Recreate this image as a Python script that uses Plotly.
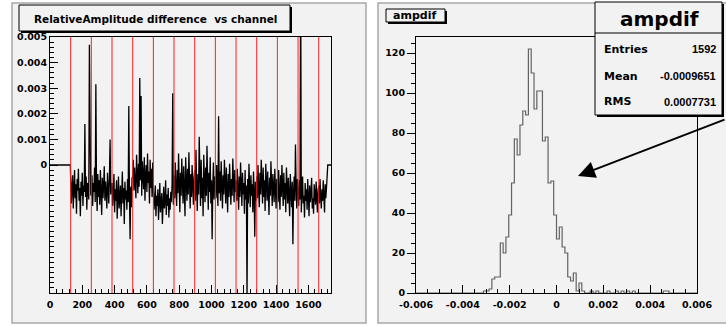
import plotly.graph_objects as go

W, H = 726, 326

# ---------------- data ----------------
# Left panel: relative amplitude difference per channel (units of 1e-5), 13 groups of 128 channels,
# sampled every 4 channels.
seg1 = [-60, -150, -85, -40, -170, -110, -20, -130, -75, -190, -55, -100, -15, -140, -90, -200,
        -65, -120, -30, -160, -80, -105, 160, -125, -45, -175, -70, -95, -135, 470, -50, -115]
seg2 = [-120, -40, -160, -70, -105, -10, -145, 315, -90, -180, -35, -125, -60, -155, -20, -100,
        -195, -50, -130, -80, -5, -140, -65, -110, -170, -30, -95, -150, -45, 100, -115, -75]
seg3 = [-70, -160, -120, -35, -185, -95, -140, -60, -210, -105, -45, -170, -130, -80, -200, -115,
        -25, -150, -90, -230, -65, -135, -100, -175, -55, -145, 230, -120, -290, -85, -165, -50]
seg4 = [-45, 20, -100, -10, -75, -130, 40, -35, -110, 5, -85, 340, -60, 270, -120, 15,
        -20, -95, 30, -140, -40, 0, -105, 45, -70, -25, -150, 20, -90, -15, -125, 10]
seg5 = [-100, -175, -140, -80, -200, -120, -160, -95, -215, -135, -70, -185, -150, -110, -230, -125,
        -85, -170, -145, -60, -195, -115, -160, -90, -205, -130, -175, -105, -145, -75, 280, -155]
seg6 = [-40, -130, 10, -95, -160, -20, -110, 45, -70, -185, -30, -120, 25, -85, -150, -5,
        -100, -200, 30, -60, -140, -15, -115, 50, -80, -170, -35, -125, 0, -90, -155, -50]
seg7 = [-20, -140, 60, -95, -180, -35, -115, 110, -70, -160, 20, -130, -50, -200, 40, -90,
        -145, -10, -120, 75, -75, -175, -30, -105, 30, -150, -60, -290, -85, 10, -135, -45]
seg8 = [-50, -130, 0, -95, -160, 190, -110, -25, -140, 15, -80, -170, -40, -115, 20, -65,
        -150, -10, -100, -185, -35, -125, 5, -85, -155, -55, -120, 25, -75, -145, -20, -105]
seg9 = [-60, -140, -15, -110, -175, -45, -125, 10, -90, -160, -30, -115, -70, -190, -20, -135,
        -80, -520, -55, -150, 5, -100, -165, -40, -120, -75, -185, -25, -105, -280, -65, -140]
seg10 = [-45, -130, 0, -100, -165, -30, -115, 20, -75, -150, -10, -125, -60, -180, 5, -95,
         -140, -25, -110, -195, -50, -120, 15, -85, -160, -35, -105, -145, -15, -90, -170, -55]
seg11 = [-60, -145, -20, -115, -175, -40, -125, 0, -95, -160, -30, -135, -70, -185, -10, -105,
         -150, -50, -120, -200, -35, -90, -165, -65, -310, -110, -45, -140, 80, -80, -170, -55]
seg12 = [-90, -160, -60, -135, 800, -185, -100, -45, -150, -120, -205, -70, -140, -95, -175, -55,
         -125, -200, -80, -145, -110, -50, -170, -130, -190, -75, -115, -155, -65, -140, -185, -100]
seg13 = [-80, -150, -55, -125, -170, -95, -140, -60, -115, -185, -75, -130, -90, -50]
segments = [seg1, seg2, seg3, seg4, seg5, seg6, seg7, seg8, seg9, seg10, seg11, seg12, seg13]
group_size = 128
sample_step = 4
first_channel = 128
last_channel = 1720
channel_max = 1740
red_line_channels = [128 * k for k in range(1, 14)]

# Right panel: histogram "ampdif", 100 bins in [-0.006, 0.006]
hist_lo, hist_hi, nbins = -0.006, 0.006, 100
counts = [0] * 24 + [1, 1, 2, 7, 8, 8, 25, 20, 28, 39, 55, 77, 69, 84, 91, 89, 122, 110, 92, 101, 101,
                     76, 78, 55, 56, 39, 27, 33, 23, 20, 8, 6, 10, 1, 5, 1,
                     0, 0, 1, 0, 1, 0, 0, 0, 1, 0, 0, 1, 0, 1, 0, 1, 0, 1,
                     0, 0, 0, 0, 0, 0, 0, 0, 0, 0, 1, 1] + [0] * 10
stats_entries = "1592"
stats_mean = "-0.0009651"
stats_rms = "0.0007731"

left_xticks = [0, 200, 400, 600, 800, 1000, 1200, 1400, 1600]
left_yticks = [-0.005, -0.004, -0.003, -0.002, -0.001, 0, 0.001, 0.002, 0.003, 0.004, 0.005]
left_ytext = ["", "", "", "", "", "0", "0.001", "0.002", "0.003", "0.004", "0.005"]
right_xticks = [-0.006, -0.004, -0.002, 0, 0.002, 0.004, 0.006]
right_xtext = ["-0.006", "-0.004", "-0.002", "0", "0.002", "0.004", "0.006"]
right_yticks = [0, 20, 40, 60, 80, 100, 120]

# ---------------- build traces ----------------
lx = [0, first_channel - 2]
ly = [0.0, 0.0]
for k, seg in enumerate(segments):
    start = group_size * (k + 1)
    for i, v in enumerate(seg):
        lx.append(start + sample_step * i)
        ly.append(v * 1e-5)
lx += [last_channel, channel_max]
ly += [0.0, 0.0]

bw = (hist_hi - hist_lo) / nbins
hx = [hist_lo + bw * i for i in range(nbins + 1)]
hy = counts + [counts[-1]]

fig = go.Figure()
fig.add_trace(go.Scatter(x=lx, y=ly, mode="lines", line=dict(color="black", width=1.3),
                         xaxis="x", yaxis="y", hoverinfo="skip"))
fig.add_trace(go.Scatter(x=hx, y=hy, mode="lines", line=dict(color="#636363", width=1.2, shape="hv"),
                         xaxis="x2", yaxis="y2", hoverinfo="skip"))

def X(p):
    return p / W

def Y(p):
    return 1 - p / H

PAD = "#f2f2f2"
tickfont = dict(family="DejaVu Sans", size=9.5, color="black", weight="bold")
common = dict(showgrid=False, zeroline=False, showline=True, linecolor="black", linewidth=1,
              mirror=True, tickcolor="black", tickwidth=1, ticklen=8, tickmode="array",
              tickfont=tickfont, fixedrange=True, automargin=False)

ydom = [Y(293), Y(37)]
fig.update_layout(
    width=W, height=H, margin=dict(l=0, r=0, t=0, b=0, pad=0), autosize=False,
    paper_bgcolor="white", plot_bgcolor=PAD, showlegend=False,
    xaxis=dict(domain=[X(50), X(331)], range=[0, channel_max], anchor="y", ticks="inside",
               tickvals=left_xticks, ticktext=[str(v) for v in left_xticks], ticklabelstandoff=3,
               minor=dict(tickmode="array", tickvals=list(range(0, channel_max, 40)), ticks="inside",
                          ticklen=4, tickcolor="black"), **common),
    yaxis=dict(domain=ydom, range=[-0.005, 0.005], anchor="x", ticks="inside",
               tickvals=left_yticks, ticktext=left_ytext,
               minor=dict(tickmode="array", tickvals=[i * 0.0002 for i in range(-25, 26)],
                          ticks="inside", ticklen=4, tickcolor="black"), **common),
    xaxis2=dict(domain=[X(416), X(697)], range=[hist_lo, hist_hi], anchor="y2", ticks="inside",
                tickvals=right_xticks, ticktext=right_xtext, ticklabelstandoff=3,
                minor=dict(tickmode="array", tickvals=[i * 0.0005 for i in range(-12, 13)],
                           ticks="inside", ticklen=4, tickcolor="black"), **common),
    yaxis2=dict(domain=ydom, range=[0, 128], anchor="x2", ticks="outside",
                tickvals=right_yticks, ticktext=[str(v) for v in right_yticks],
                minor=dict(tickmode="array", tickvals=list(range(0, 129, 5)), ticks="outside",
                           ticklen=4, tickcolor="black"), **common),
)

shapes = []
# pads
shapes.append(dict(type="rect", xref="paper", yref="paper", x0=X(12), x1=X(366), y0=Y(323), y1=Y(3),
                   fillcolor=PAD, line=dict(color="#a8a8a8", width=1.5), layer="below"))
shapes.append(dict(type="rect", xref="paper", yref="paper", x0=X(378), x1=X(740), y0=Y(323), y1=Y(3),
                   fillcolor=PAD, line=dict(color="#a8a8a8", width=1.5), layer="below"))
# red separators
for c in red_line_channels:
    shapes.append(dict(type="line", xref="x", yref="y domain", x0=c, x1=c, y0=0, y1=1,
                       line=dict(color="#ff2020", width=1), layer="above"))

def box(x0, y0, x1, y1, sh=2):
    shapes.append(dict(type="rect", xref="paper", yref="paper", x0=X(x0 + sh), x1=X(x1 + sh),
                       y0=Y(y1 + sh), y1=Y(y0 + sh), fillcolor="black", line=dict(width=0), layer="above"))
    shapes.append(dict(type="rect", xref="paper", yref="paper", x0=X(x0), x1=X(x1), y0=Y(y1), y1=Y(y0),
                       fillcolor=PAD, line=dict(color="black", width=1), layer="above"))

box(19, 5, 290, 31)
box(386, 9, 445, 22)
box(595, 2, 722, 115)
shapes.append(dict(type="line", xref="paper", yref="paper", x0=X(595), x1=X(722), y0=Y(33), y1=Y(33),
                   line=dict(color="black", width=1), layer="above"))
fig.update_layout(shapes=shapes)

ann = []
def txt(s, x, y, size, anchor="center", family="DejaVu Sans"):
    ann.append(dict(text=s, xref="paper", yref="paper", x=X(x), y=Y(y), xanchor=anchor, yanchor="middle",
                    showarrow=False, font=dict(family=family, size=size, color="black", weight="bold")))

txt("RelativeAmplitude difference \u00a0vs channel", 155, 18.5, 10.5)
txt("ampdif", 415, 15.5, 11)
txt("ampdif", 659, 19, 20)
txt("Entries", 602, 49, 11, "left")
txt(stats_entries, 718, 49, 11, "right", "Liberation Sans")
txt("Mean", 602, 76, 11, "left")
txt(stats_mean, 718, 76, 11, "right", "Liberation Sans")
txt("RMS", 602, 102, 11, "left")
txt(stats_rms, 718, 102, 11, "right", "Liberation Sans")

ann.append(dict(text="", xref="paper", yref="paper", x=X(578), y=Y(176), ax=148, ay=-57,
                showarrow=True, arrowhead=2, arrowsize=1.7, arrowwidth=2, arrowcolor="black"))
fig.update_layout(annotations=ann)

fig.write_html("out.html", config={"displayModeBar": False},
               post_script="document.body.style.margin='0';document.body.style.overflow='hidden';")
